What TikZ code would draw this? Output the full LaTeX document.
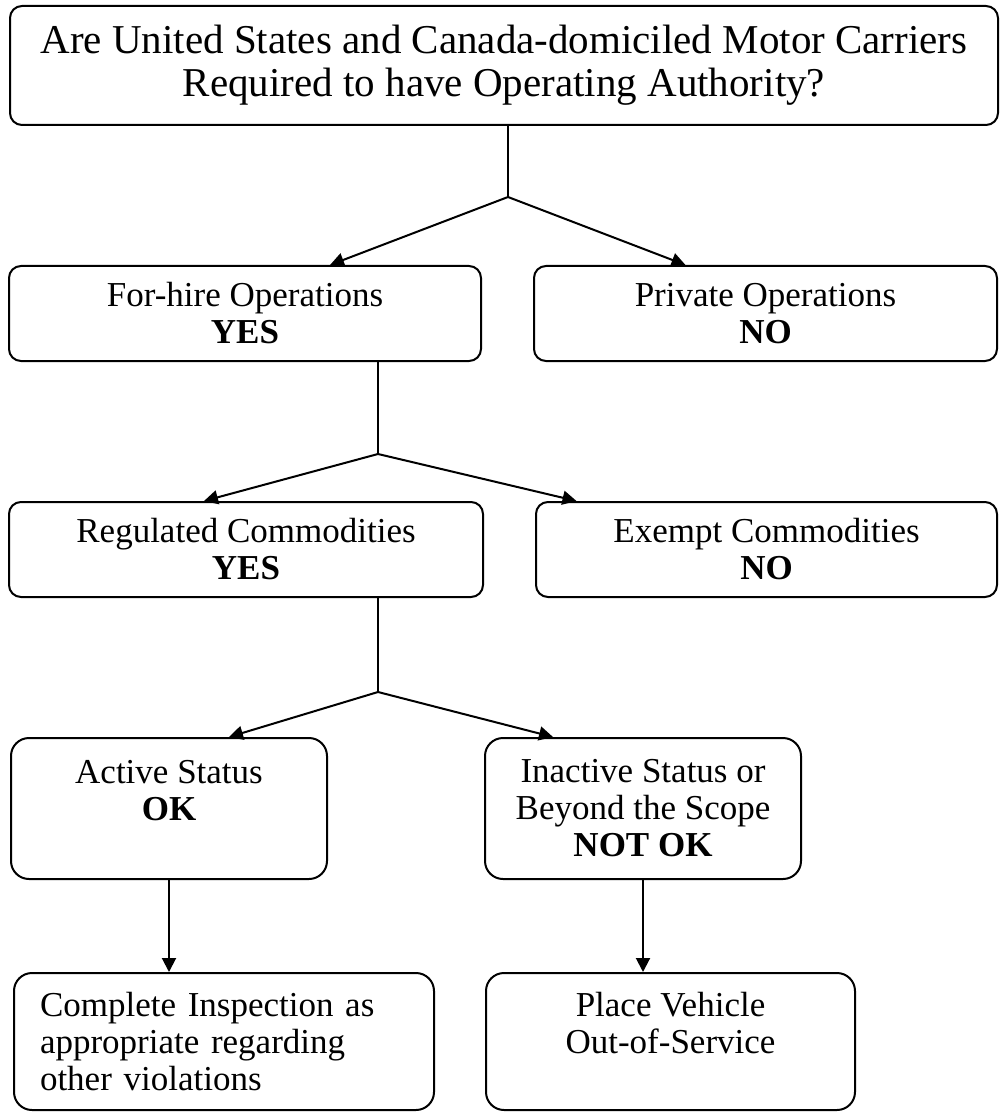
\documentclass[tikz,border=0pt]{standalone}
\usepackage{fontspec}
\setmainfont{Liberation Serif}
\usetikzlibrary{arrows.meta,calc}
\begin{document}
\begin{tikzpicture}[x=0.5pt,y=-0.5pt,
  box/.style={draw,line width=1pt,rounded corners=6pt,inner sep=0pt,align=center,
    font=\fontsize{17.5}{18.5}\selectfont},
  lowbox/.style={box,rounded corners=9pt},
  conn/.style={line width=1pt},
  arr/.style={line width=1pt,-{Triangle[length=7pt,width=7pt]}}]
\useasboundingbox (0,0) rectangle (1000,1112);
\node[box,minimum width=494pt,minimum height=59.5pt,font=\fontsize{20.5}{21.5}\selectfont] (top) at (504,65.5)
  {Are United States and Canada-domiciled Motor Carriers\\Required to have Operating Authority?};
\node[box,minimum width=236pt,minimum height=47.5pt] (forhire) at (245,313.5)
  {For-hire Operations\\\textbf{YES}};
\node[box,minimum width=231.5pt,minimum height=47.5pt] (private) at (765.5,313.5)
  {Private Operations\\\textbf{NO}};
\node[box,minimum width=237pt,minimum height=47.5pt] (regulated) at (246,549.5)
  {Regulated Commodities\\\textbf{YES}};
\node[box,minimum width=230.5pt,minimum height=47.5pt] (exempt) at (766.5,549.5)
  {Exempt Commodities\\\textbf{NO}};
\node[lowbox,minimum width=158pt,minimum height=70.5pt] (active) at (169,808.5)
  {Active Status\\\textbf{OK}\\\mbox{}};
\node[lowbox,minimum width=158pt,minimum height=70.5pt] (inactive) at (643,808.5)
  {Inactive Status or\\Beyond the Scope\\\textbf{NOT OK}};
\node[lowbox,minimum width=210pt,minimum height=68.5pt,text width=184pt,align=left] (complete) at (224,1041.5)
  {Complete Inspection as\\appropriate regarding\\other violations};
\node[lowbox,minimum width=184.5pt,minimum height=68.5pt] (place) at (670.5,1041.5)
  {Place Vehicle\\Out-of-Service\\\mbox{}};
\coordinate (j1) at (508,197);
\coordinate (j2) at (378,454);
\coordinate (j3) at (378,692);
\draw[conn] (top.south -| j1) -- (j1);
\draw[arr] (j1) -- ($(forhire.north)+(85,0)$);
\draw[arr] (j1) -- ($(private.north)+(-80,0)$);
\draw[conn] (forhire.south -| j2) -- (j2);
\draw[arr] (j2) -- ($(regulated.north)+(-42,0)$);
\draw[arr] (j2) -- ($(exempt.north)+(-190,0)$);
\draw[conn] (regulated.south -| j3) -- (j3);
\draw[arr] (j3) -- ($(active.north)+(60,0)$);
\draw[arr] (j3) -- ($(inactive.north)+(-90,0)$);
\draw[arr] (active.south) -- (active.south |- complete.north);
\draw[arr] (inactive.south) -- (inactive.south |- place.north);
\end{tikzpicture}
\end{document}
